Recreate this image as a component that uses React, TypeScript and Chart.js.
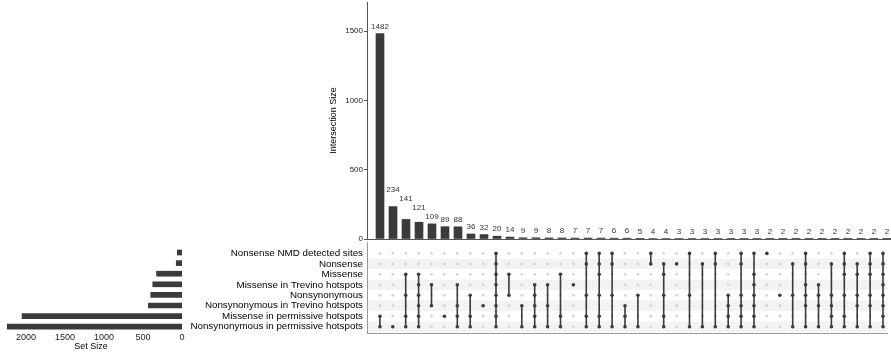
import React, { useEffect, useRef } from "react";
import { Chart, registerables } from "chart.js";
Chart.register(...registerables);

const FONT = "'Liberation Sans', Arial, Helvetica, sans-serif";
Chart.defaults.font.family = FONT;

const setNames = [
  "Nonsense NMD detected sites",
  "Nonsense",
  "Missense",
  "Missense in Trevino hotspots",
  "Nonsynonymous",
  "Nonsynonymous in Trevino hotspots",
  "Missense in permissive hotspots",
  "Nonsynonymous in permissive hotspots",
];
const setSizes = [60, 74, 326, 375, 400, 432, 2050, 2240];

const intersectionSizes = [
  1482, 234, 141, 121, 109, 89, 88, 36, 32, 20, 14, 9, 9, 8, 8, 7, 7, 7, 6, 6,
  5, 4, 4, 3, 3, 3, 3, 3, 3, 3, 2, 2, 2, 2, 2, 2, 2, 2, 2, 2,
];
const intersectionSets: number[][] = [
  [6, 7], [7], [2, 4, 6, 7], [2, 3, 4, 5, 6, 7], [3, 5], [6], [3, 5, 6, 7], [4, 6, 7],
  [5], [0, 1, 2, 3, 4, 5, 6, 7], [2, 4], [5, 7], [3, 4, 5, 6, 7], [3, 5, 7], [2, 6, 7], [3],
  [0, 1, 4, 6, 7], [0, 1, 2, 4, 6, 7], [0, 1, 4, 7], [5, 6, 7], [4, 7], [0, 1], [1, 2, 4, 6, 7], [1],
  [0, 4, 7], [1, 7], [0, 1, 7], [4, 5, 6, 7], [0, 1, 4, 5, 6, 7], [0, 2, 3, 4, 5, 6, 7], [0], [4],
  [1, 4, 7], [0, 1, 3, 4, 5, 7], [3, 4, 5, 7], [1, 4, 5, 6, 7], [0, 1, 2, 4, 6, 7], [1, 2, 4, 5, 7], [0, 1, 2, 4, 5, 7], [0, 1, 2, 3, 4, 5, 6, 7],
];
const intersectionTicks = [0, 500, 1000, 1500];
const setSizeTicks = [0, 500, 1000, 1500, 2000];

const BAR = "#3b3b3b";
const X_MIN = -1;
const X_MAX = 39.31;
const ROW_MIN = -1.09;
const ROW_MAX = 7.6;

const labelPlugin = {
  id: "barLabels",
  afterDatasetsDraw(chart: any) {
    const ctx = chart.ctx;
    const meta = chart.getDatasetMeta(0);
    const els = meta.data;
    ctx.save();
    ctx.font = `8px ${FONT}`;
    ctx.fillStyle = "#333";
    ctx.textAlign = "center";
    ctx.textBaseline = "middle";
    const n = els.length;
    const ws = intersectionSizes.map((v) => ctx.measureText(String(v)).width);
    const ys: number[] = new Array(n);
    for (let i = n - 1; i >= 0; i--) {
      let y = els[i].y - 7;
      if (i < n - 1) {
        const dx = Math.abs(els[i + 1].x - els[i].x);
        if (dx < (ws[i] + ws[i + 1]) / 2 + 1) y = Math.min(y, ys[i + 1] - 9);
      }
      ys[i] = y;
    }
    for (let i = 0; i < n; i++) {
      ctx.fillText(String(intersectionSizes[i]), els[i].x, ys[i]);
    }
    ctx.restore();
  },
};

const stripePlugin = {
  id: "stripes",
  beforeDraw(chart: any) {
    const { ctx, chartArea } = chart;
    const ys = chart.scales.y;
    ctx.save();
    ctx.fillStyle = "#f3f3f3";
    for (let r = 1; r < setNames.length; r += 2) {
      const a = ys.getPixelForValue(r - 0.5);
      const b = ys.getPixelForValue(r + 0.5);
      ctx.fillRect(chartArea.left, Math.min(a, b), chartArea.right - chartArea.left, Math.abs(b - a));
    }
    ctx.restore();
  },
};

const noVPad = (s: any) => {
  s.paddingTop = 0;
  s.paddingBottom = 0;
};

export default function App() {
  const topRef = useRef<HTMLCanvasElement>(null);
  const matRef = useRef<HTMLCanvasElement>(null);
  const setRef = useRef<HTMLCanvasElement>(null);

  useEffect(() => {
    const charts: Chart[] = [];

    charts.push(
      new Chart(topRef.current!, {
        type: "bar",
        data: {
          datasets: [
            {
              data: intersectionSizes.map((v, i) => ({ x: i, y: v })),
              backgroundColor: BAR,
              barThickness: 8,
            } as any,
          ],
        },
        options: {
          animation: false,
          responsive: false,
          layout: { padding: { top: 2, right: 0, left: 0, bottom: 0 } },
          plugins: { legend: { display: false }, tooltip: { enabled: false } },
          scales: {
            x: {
              type: "linear",
              min: X_MIN,
              max: X_MAX,
              offset: false,
              ticks: { display: false },
              grid: { display: false, drawTicks: false, offset: false },
              border: { display: true, color: "#555", width: 1 },
              afterFit: (s: any) => {
                s.height = 6;
                s.paddingLeft = 0;
                s.paddingRight = 0;
              },
            },
            y: {
              type: "linear",
              min: 0,
              max: 1710,
              afterBuildTicks: (s: any) => {
                s.ticks = intersectionTicks.map((v) => ({ value: v }));
              },
              ticks: {
                font: { family: FONT, size: 8 },
                color: "#222",
                padding: 1,
                callback: (v: any) => String(v),
              },
              grid: { display: true, drawOnChartArea: false, drawTicks: true, tickLength: 3, color: "#555" },
              border: { display: true, color: "#555", width: 1 },
              title: {
                display: true,
                text: "Intersection Size",
                font: { family: FONT, size: 9 },
                color: "#000",
                padding: { top: 4, bottom: 0 },
              },
              afterFit: (s: any) => {
                s.width = 43;
                noVPad(s);
              },
            },
          },
        } as any,
        plugins: [labelPlugin],
      })
    );

    const bgPoints: { x: number; y: number }[] = [];
    for (let i = 0; i < intersectionSizes.length; i++)
      for (let r = 0; r < setNames.length; r++) bgPoints.push({ x: i, y: r });

    charts.push(
      new Chart(matRef.current!, {
        type: "scatter",
        data: {
          datasets: [
            {
              data: bgPoints,
              order: 1,
              pointRadius: 1.4,
              pointBackgroundColor: "#d4d4d4",
              pointBorderColor: "#d4d4d4",
              pointBorderWidth: 0,
              showLine: false,
            } as any,
            ...intersectionSets.map((rows, i) => ({
              data: rows.map((r) => ({ x: i, y: r })),
              order: 0,
              showLine: true,
              borderColor: BAR,
              borderWidth: 1.6,
              pointRadius: 1.8,
              pointBackgroundColor: BAR,
              pointBorderColor: BAR,
              pointBorderWidth: 0,
            })),
          ],
        },
        options: {
          animation: false,
          responsive: false,
          layout: { padding: { top: 3, right: 0, left: 0, bottom: 5 } },
          plugins: { legend: { display: false }, tooltip: { enabled: false } },
          scales: {
            x: {
              type: "linear",
              min: X_MIN,
              max: X_MAX,
              ticks: { display: false },
              grid: { display: false, drawTicks: false },
              border: { display: true, color: "#999", width: 1 },
              afterFit: (s: any) => {
                s.height = 0;
                s.paddingLeft = 0;
                s.paddingRight = 0;
              },
            },
            y: {
              type: "linear",
              min: ROW_MIN,
              max: ROW_MAX,
              reverse: true,
              afterBuildTicks: (s: any) => {
                s.ticks = setNames.map((_, i) => ({ value: i }));
              },
              ticks: {
                font: { family: FONT, size: 9.8 },
                color: "#000",
                padding: 4,
                autoSkip: false,
                callback: (v: any) => setNames[v as number] ?? "",
              },
              grid: { display: false, drawTicks: false },
              border: { display: true, color: "#999", width: 1 },
              afterFit: (s: any) => {
                s.width = 187;
                noVPad(s);
              },
            },
          },
        } as any,
        plugins: [stripePlugin],
      })
    );

    charts.push(
      new Chart(setRef.current!, {
        type: "bar",
        data: {
          datasets: [
            {
              data: setSizes.map((v, i) => ({ x: v, y: i })),
              backgroundColor: BAR,
              barThickness: 5,
            } as any,
          ],
        },
        options: {
          indexAxis: "y",
          animation: false,
          responsive: false,
          layout: { padding: { top: 3, right: 8, left: 0, bottom: 0 } },
          plugins: { legend: { display: false }, tooltip: { enabled: false } },
          scales: {
            y: {
              type: "linear",
              min: ROW_MIN,
              max: ROW_MAX,
              reverse: true,
              offset: false,
              display: false,
              grid: { offset: false },
            },
            x: {
              type: "linear",
              min: 0,
              max: 2333,
              reverse: true,
              afterBuildTicks: (s: any) => {
                s.ticks = setSizeTicks.map((v) => ({ value: v }));
              },
              ticks: {
                font: { family: FONT, size: 9, lineHeight: 1 },
                color: "#222",
                padding: 0,
                maxRotation: 0,
                autoSkip: false,
                callback: (v: any) => String(v),
              },
              grid: { display: false, drawTicks: false },
              border: { display: false },
              title: {
                display: true,
                text: "Set Size",
                font: { family: FONT, size: 9 },
                color: "#000",
                padding: { top: 0, bottom: 2.6 },
              },
              afterFit: (s: any) => {
                s.height = 22;
                s.paddingLeft = 0;
                s.paddingRight = 0;
              },
            },
          },
        } as any,
      })
    );

    return () => charts.forEach((c) => c.destroy());
  }, []);

  const abs = (left: number, top: number, w: number, h: number): React.CSSProperties => ({
    position: "absolute",
    left,
    top,
    width: w,
    height: h,
  });

  return (
    <div style={{ position: "absolute", left: 0, top: 0, width: 891, height: 355, background: "#fff", overflow: "hidden" }}>
      <canvas ref={topRef} width={567} height={245} style={abs(324, 0, 567, 245)} />
      <canvas ref={setRef} width={190} height={117} style={abs(0, 238, 190, 117)} />
      <canvas ref={matRef} width={711} height={100} style={abs(180, 238, 711, 100)} />
    </div>
  );
}
